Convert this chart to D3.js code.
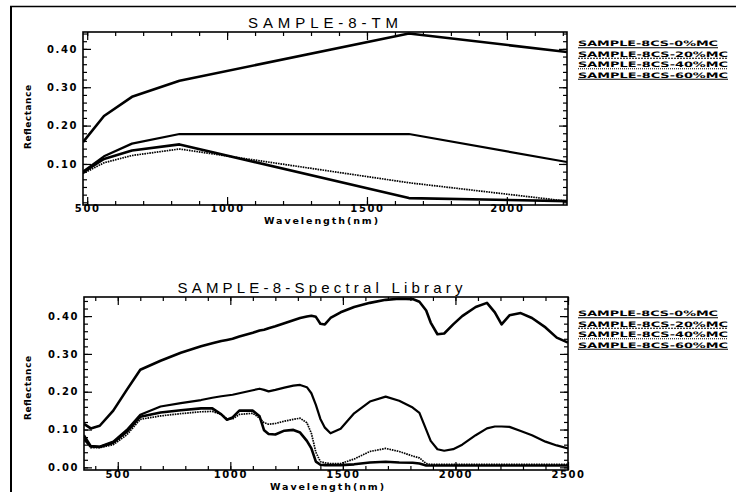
<!DOCTYPE html>
<html><head><meta charset="utf-8">
<script src="https://cdn.jsdelivr.net/npm/d3@7"></script>
<style>body{margin:0;background:#fff}svg{display:block}</style>
</head><body><svg id="c" width="736" height="492"></svg>
<script>
// ---------- data ----------
const seriesNames = ["SAMPLE-8CS-0%MC","SAMPLE-8CS-20%MC","SAMPLE-8CS-40%MC","SAMPLE-8CS-60%MC"];

const tmWavelength = [485, 560, 660, 830, 1650, 2215];
const tm0  = [0.157, 0.225, 0.275, 0.317, 0.440, 0.392];
const tm20 = [0.080, 0.120, 0.153, 0.178, 0.178, 0.105];
const tm40 = [0.075, 0.103, 0.122, 0.139, 0.051, 0.003];
const tm60 = [0.078, 0.113, 0.135, 0.151, 0.011, 0.003];

const libWavelength = [350,380,420,480,540,600,690,780,870,920,960,985,1010,1040,1100,1130,1150,1170,1200,1240,1280,1310,1340,1360,1380,1400,1420,1445,1490,1550,1620,1690,1750,1810,1840,1870,1890,1920,1950,1990,2030,2090,2140,2175,2205,2240,2290,2340,2400,2450,2500];
const lib0  = [0.115,0.103,0.110,0.150,0.205,0.258,0.282,0.303,0.320,0.328,0.334,0.337,0.340,0.346,0.356,0.362,0.364,0.368,0.373,0.381,0.389,0.395,0.399,0.401,0.398,0.380,0.378,0.395,0.410,0.424,0.435,0.443,0.446,0.445,0.438,0.415,0.383,0.352,0.354,0.378,0.400,0.424,0.435,0.410,0.378,0.402,0.408,0.395,0.370,0.343,0.330];
const lib20 = [0.085,0.057,0.055,0.068,0.099,0.139,0.161,0.170,0.178,0.184,0.188,0.190,0.192,0.196,0.204,0.208,0.205,0.201,0.205,0.211,0.216,0.218,0.212,0.196,0.165,0.128,0.105,0.090,0.102,0.143,0.174,0.187,0.176,0.158,0.144,0.100,0.070,0.048,0.044,0.048,0.060,0.085,0.103,0.108,0.108,0.107,0.096,0.085,0.068,0.058,0.050];
const lib40 = [0.080,0.052,0.052,0.060,0.086,0.127,0.136,0.142,0.147,0.148,0.140,0.128,0.128,0.140,0.143,0.130,0.118,0.114,0.116,0.122,0.127,0.130,0.118,0.090,0.040,0.015,0.012,0.010,0.010,0.022,0.042,0.050,0.042,0.030,0.025,0.010,0.008,0.008,0.008,0.008,0.008,0.008,0.008,0.008,0.008,0.008,0.008,0.008,0.008,0.008,0.008];
const lib60 = [0.075,0.055,0.054,0.065,0.094,0.134,0.145,0.151,0.156,0.156,0.140,0.126,0.132,0.150,0.150,0.135,0.098,0.088,0.087,0.097,0.099,0.092,0.070,0.050,0.015,0.007,0.006,0.006,0.006,0.008,0.013,0.015,0.013,0.012,0.010,0.005,0.005,0.005,0.005,0.005,0.005,0.005,0.005,0.005,0.005,0.005,0.005,0.005,0.005,0.005,0.005];

const tmXTicks  = [500, 1000, 1500, 2000];
const libXTicks = [500, 1000, 1500, 2000, 2500];
const tmYTicks  = [0.1, 0.2, 0.3, 0.4];
const libYTicks = [0.0, 0.1, 0.2, 0.3, 0.4];

// ---------- drawing ----------
const svg = d3.select("#c");
const lineStyles = [
  {w: 2.6, dash: null},
  {w: 2.2, dash: null},
  {w: 1.7, dash: "1.6,0.9"},
  {w: 2.6, dash: null}
];
const underlineDash = [null, "2,1", "1,1", null];

// outer frame
svg.append("line").attr("x1",10).attr("x2",736).attr("y1",6.5).attr("y2",6.5).attr("stroke","#000").attr("stroke-width",1.3);
svg.append("line").attr("x1",11).attr("x2",11).attr("y1",6).attr("y2",492).attr("stroke","#000").attr("stroke-width",2);

const tickFont = "'DejaVu Sans', sans-serif";

function panel(cfg, id){
  const g = svg.append("g");
  const x = d3.scaleLinear().domain(cfg.xDomain).range([cfg.left, cfg.right]);
  const y = d3.scaleLinear().domain(cfg.yDomain).range([cfg.bottom, cfg.top]);

  const xMinor = d3.range(Math.ceil(cfg.xDomain[0]/100)*100, cfg.xDomain[1]+0.5, 100);
  const yMinor = d3.range(0, cfg.yDomain[1], 0.02).map(v => +v.toFixed(2));

  function styleAxis(sel){
    sel.select(".domain").remove();
    sel.selectAll(".tick line").attr("stroke","#000").attr("stroke-width",1.2);
    sel.selectAll(".tick text").attr("fill","#000").attr("font-family",tickFont)
       .attr("font-size",10).attr("font-weight","bold").attr("letter-spacing","1.6px");
  }
  // minor ticks
  g.append("g").attr("transform",`translate(0,${cfg.bottom})`).call(d3.axisBottom(x).tickValues(xMinor).tickSize(-4).tickFormat("")).call(styleAxis);
  g.append("g").attr("transform",`translate(0,${cfg.top})`).call(d3.axisTop(x).tickValues(xMinor).tickSize(-4).tickFormat("")).call(styleAxis);
  g.append("g").attr("transform",`translate(${cfg.left},0)`).call(d3.axisLeft(y).tickValues(yMinor).tickSize(-4).tickFormat("")).call(styleAxis);
  g.append("g").attr("transform",`translate(${cfg.right},0)`).call(d3.axisRight(y).tickValues(yMinor).tickSize(-4).tickFormat("")).call(styleAxis);
  // major ticks
  g.append("g").attr("transform",`translate(0,${cfg.bottom})`)
    .call(d3.axisBottom(x).tickValues(cfg.xTicks).tickSize(-8).tickPadding(cfg.xPad).tickFormat(d3.format("d"))).call(styleAxis);
  g.append("g").attr("transform",`translate(0,${cfg.top})`)
    .call(d3.axisTop(x).tickValues(cfg.xTicks).tickSize(-8).tickFormat("")).call(styleAxis);
  g.append("g").attr("transform",`translate(${cfg.left},0)`)
    .call(d3.axisLeft(y).tickValues(cfg.yTicks).tickSize(-8).tickPadding(5).tickFormat(d3.format(".2f"))).call(styleAxis);
  g.append("g").attr("transform",`translate(${cfg.right},0)`)
    .call(d3.axisRight(y).tickValues(cfg.yTicks).tickSize(-8).tickFormat("")).call(styleAxis);

  // box
  g.append("rect").attr("x",cfg.left).attr("y",cfg.top).attr("width",cfg.right-cfg.left).attr("height",cfg.bottom-cfg.top)
    .attr("fill","none").attr("stroke","#000").attr("stroke-width",1.6);

  // clip
  svg.append("clipPath").attr("id","clip"+id).append("rect")
    .attr("x",cfg.left).attr("y",cfg.top-1).attr("width",cfg.right-cfg.left).attr("height",cfg.bottom-cfg.top+1);

  const line = d3.line().x(d => x(d[0])).y(d => y(d[1]));
  cfg.series.forEach((vals, i) => {
    const pts = cfg.xs.map((w, k) => [w, vals[k]]);
    g.append("path").attr("d", line(pts)).attr("fill","none").attr("stroke","#000")
      .attr("stroke-width", lineStyles[i].w).attr("stroke-dasharray", lineStyles[i].dash)
      .attr("stroke-linejoin","round").attr("clip-path",`url(#clip${id})`);
  });

  // title
  g.append("text").attr("x",cfg.titleX).attr("y",cfg.titleY).attr("text-anchor","middle")
    .attr("font-family","'Liberation Sans', Arial, sans-serif").attr("font-size",15)
    .attr("textLength",cfg.titleLen).attr("lengthAdjust","spacing").text(cfg.title);
  // x label
  g.append("text").attr("x",cfg.xLabelX).attr("y",cfg.xLabelY).attr("text-anchor","middle")
    .attr("font-family",tickFont).attr("font-size",9.5).attr("font-weight","bold")
    .attr("textLength",114).attr("lengthAdjust","spacing").text("Wavelength(nm)");
  // y label
  g.append("text").attr("transform",`translate(31,${cfg.yLabelY}) rotate(-90)`).attr("text-anchor","middle")
    .attr("font-family",tickFont).attr("font-size",9).attr("font-weight","bold")
    .attr("textLength",64).attr("lengthAdjust","spacing").text("Reflectance");

  // legend
  seriesNames.forEach((name, i) => {
    const by = cfg.legendY + i * cfg.legendStep;
    const len = i === 0 ? 140 : 150;
    g.append("text").attr("x",578).attr("y",by)
      .attr("font-family",tickFont).attr("font-size",7.5).attr("font-weight","bold")
      .attr("textLength",len).attr("lengthAdjust","spacingAndGlyphs").text(name);
    g.append("line").attr("x1",578).attr("x2",578+len).attr("y1",by+1.8).attr("y2",by+1.8)
      .attr("stroke","#000").attr("stroke-width",1.1).attr("stroke-dasharray",underlineDash[i]);
  });
}

panel({
  left:83, right:567, top:32, bottom:205,
  xDomain:[485,2215], yDomain:[-0.007,0.444],
  xTicks:tmXTicks, yTicks:tmYTicks, xPad:0,
  xs:tmWavelength, series:[tm0,tm20,tm40,tm60],
  title:"SAMPLE-8-TM", titleX:323, titleY:28, titleLen:150,
  xLabelX:321, xLabelY:223.5, yLabelY:117,
  legendY:46, legendStep:10.5
}, 1);

panel({
  left:84, right:568, top:297, bottom:470,
  xDomain:[350,2500], yDomain:[-0.007,0.4505],
  xTicks:libXTicks, yTicks:libYTicks, xPad:1,
  xs:libWavelength, series:[lib0,lib20,lib40,lib60],
  title:"SAMPLE-8-Spectral Library", titleX:320, titleY:293, titleLen:285,
  xLabelX:327, xLabelY:489.5, yLabelY:388,
  legendY:316, legendStep:10.5
}, 2);
</script></body></html>
